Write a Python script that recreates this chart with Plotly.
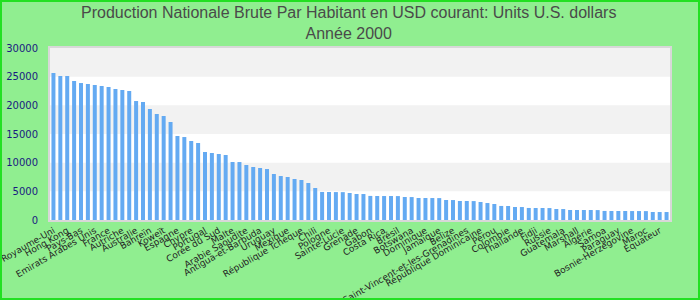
import plotly.graph_objects as go

countries = [
    "Royaume-Uni", "Irlande", "Hong Kong", "Finlande", "Pays-Bas", "Canada",
    "Emirats Arabes Unis", "Belgique", "France", "Allemagne", "Autriche", "Singapour",
    "Australie", "Italie", "Bahreïn", "Israël", "Koweït", "Bahamas",
    "Espagne", "Nouvelle-Zélande", "Chypre", "Grèce", "Portugal", "Slovénie",
    "Corée du Sud", "Barbade", "Malte", "Argentine", "Arabie Saoudite", "Seychelles",
    "Antigua-et-Barbuda", "Oman", "Uruguay", "Saint-Christophe-et-Niévès", "Mexique",
    "Trinité-et-Tobago", "République Tchèque", "Hongrie", "Chili", "Croatie", "Pologne",
    "Venezuela", "Sainte-Lucie", "Liban", "Grenade", "Estonie", "Gabon", "Slovaquie",
    "Costa Rica", "Maurice", "Brésil", "Malaisie", "Botswana", "Panama", "Dominique",
    "Lituanie", "Jamaïque", "Turquie", "Belize", "Afrique du Sud",
    "Saint-Vincent-et-les-Grenadines", "Lettonie", "République Dominicaine", "Tunisie",
    "Pérou", "El Salvador", "Colombie", "Namibie", "Thaïlande", "Maldives", "Fidji",
    "Macédoine", "Russie", "Iran", "Guatemala", "Jordanie", "Marshall", "Roumanie",
    "Algérie", "Tonga", "Samoa", "Bulgarie", "Paraguay", "Swaziland",
    "Bosnie-Herzégovine", "Kazakhstan", "Maroc", "Guinée équatoriale", "Equateur",
    "Suriname",
]

values = [
    25640, 25120, 25100, 24240, 23890, 23720, 23550, 23370, 23190, 22850, 22670, 22500,
    20750, 20580, 19360, 18490, 18140, 17090,
    14650, 14470, 13780, 13430, 11860,
    11690, 11510, 11340, 10120, 10110,
    9590, 9240, 9070, 8890,
    8020, 7670, 7500, 7150, 6980, 6450, 5580,
    4890, 4880, 4870, 4860, 4710, 4540, 4530,
    4200, 4190, 4180, 4180, 4170,
    4010, 4000,
    3840, 3840, 3830, 3820,
    3490, 3480,
    3320, 3310, 3300,
    3140, 2960, 2790, 2450, 2440,
    2270, 2260,
    2100, 2090, 2090, 2080,
    1920, 1910,
    1750, 1750, 1740, 1740, 1730,
    1580, 1570, 1570, 1570, 1560, 1560, 1550,
    1400, 1390, 1390,
]

title_text = ("Production Nationale Brute Par Habitant en USD courant: Units U.S. dollars"
              "<br>Année 2000")

bands = [(25000, 30000), (15000, 20000), (5000, 10000)]

fig = go.Figure()
fig.add_trace(go.Bar(
    x=countries, y=values,
    marker=dict(color="#64aaf2", line=dict(width=0)),
    hoverinfo="x+y",
))

shapes = []
for y0, y1 in bands:
    shapes.append(dict(type="rect", xref="paper", yref="y", x0=0, x1=1, y0=y0, y1=y1,
                       fillcolor="#f2f2f2", line=dict(width=0), layer="below"))
# outer green border
shapes.append(dict(type="rect", xref="paper", yref="paper",
                   x0=(-50 + 1) / 620, x1=(650 - 1) / 620,
                   y0=(220 - 299) / 172, y1=(220 - 1) / 172,
                   line=dict(color="#22e022", width=2), fillcolor="rgba(0,0,0,0)",
                   layer="above"))

fig.update_layout(
    width=700, height=300,
    margin=dict(l=50, r=30, t=48, b=80),
    paper_bgcolor="#90EE90",
    plot_bgcolor="#ffffff",
    annotations=[dict(
        text=title_text, xref="paper", yref="paper",
        x=(348 - 50) / 620, xanchor="center",
        y=(220 - 2) / 172, yanchor="top", showarrow=False,
        font=dict(family="Liberation Sans Narrow, Arial Narrow, Liberation Sans, sans-serif",
                  size=16, color="#4a4a4a"),
    )],
    bargap=0.42,
    showlegend=False,
    shapes=shapes,
    xaxis=dict(
        tickangle=-30,
        tickfont=dict(family="DejaVu Sans", size=9, color="#222222"),
        showgrid=False, showline=True, linecolor="#d8d8d8", linewidth=2, mirror=True,
        ticks="", automargin=False,
    ),
    yaxis=dict(
        range=[0, 30000], dtick=5000, tick0=0, tickformat="d",
        tickfont=dict(family="DejaVu Sans", size=10, color="#1a1a80"),
        showgrid=False, zeroline=False, showline=True, linecolor="#d8d8d8",
        linewidth=2, mirror=True, ticks="", ticklabelstandoff=8, automargin=False,
    ),
)

fig.write_html("out.html")
